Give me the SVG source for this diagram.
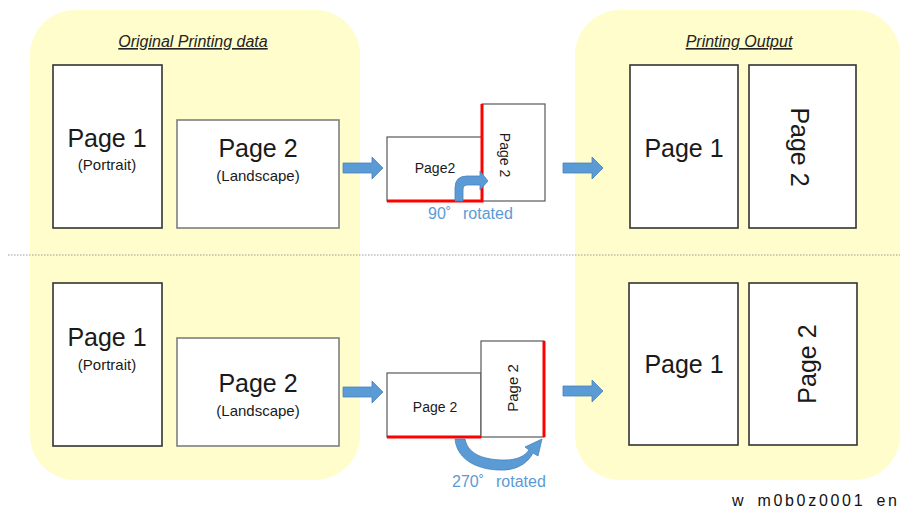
<svg xmlns="http://www.w3.org/2000/svg" width="904" height="510" viewBox="0 0 904 510">
<style>
.panel{fill:#fefdcb;stroke:none}
.page{fill:#ffffff;stroke:#333333;stroke-width:1.6}
.land{fill:#ffffff;stroke:#7f7f7f;stroke-width:1.6}
.mini{fill:#ffffff;stroke:#595959;stroke-width:1.2}
.red{stroke:#ff0000;stroke-width:3;fill:none}
.big{font-family:"Liberation Sans",Arial,sans-serif;font-size:25px;fill:#1a1a1a;text-anchor:middle}
.sub{font-family:"Liberation Sans",Arial,sans-serif;font-size:15px;fill:#1a1a1a;text-anchor:middle}
.small{font-family:"Liberation Sans",Arial,sans-serif;font-size:14px;fill:#1a1a1a;text-anchor:middle}
.title{font-family:"Liberation Sans",Arial,sans-serif;font-size:16px;font-style:italic;text-decoration:underline;fill:#222222;text-anchor:middle}
.rot{font-family:"Liberation Sans",Arial,sans-serif;font-size:16px;fill:#5b9bd5}
.arrow{fill:#5b9bd5;stroke:#4a82bd;stroke-width:0.8}
.cap{font-family:"Liberation Sans",Arial,sans-serif;font-size:16px;fill:#111111;letter-spacing:2.7px;word-spacing:4px}
</style>
<rect width="904" height="510" fill="#ffffff"/>
<g id="panel-original">
<rect class="panel" x="30" y="10" width="330" height="470" rx="45" ry="45"/>
<text class="title" x="193" y="47">Original Printing data</text>
</g>
<g id="panel-output">
<rect class="panel" x="575" y="10" width="325" height="470" rx="45" ry="45"/>
<text class="title" x="739" y="47">Printing Output</text>
</g>
<line x1="8" y1="255" x2="900" y2="255" stroke="#9a9a9a" stroke-width="1" stroke-dasharray="1.5,1.5"/>
<g id="top-page1">
<rect class="page" x="53" y="65" width="109" height="163"/>
<text class="big" x="107" y="147">Page 1</text>
<text class="sub" x="107" y="170">(Portrait)</text>
</g>
<g id="top-page2">
<rect class="land" x="177" y="120" width="162" height="108"/>
<text class="big" x="258" y="157">Page 2</text>
<text class="sub" x="258" y="181">(Landscape)</text>
</g>
<g id="top-rotation">
<rect class="mini" x="387" y="137" width="95" height="64"/>
<text class="small" x="435" y="173">Page2</text>
<rect class="mini" x="482" y="104" width="63" height="97"/>
<text class="small" x="505" y="155" dominant-baseline="central" transform="rotate(90 505 155)">Page 2</text>
<polyline class="red" points="387,201 482,201 482,104"/>
<path class="arrow" d="M455,201 L455,188 Q455,176 467,176 L480,176 L480,171 L488,181 L480,190 L480,185 L467,185 Q463,185 463,189 L463,201 Z"/>
<text class="rot" x="428" y="219">90˚<tspan x="463">rotated</tspan></text>
</g>
<g id="top-out-page1">
<rect class="page" x="630" y="65" width="108" height="163"/>
<text class="big" x="684" y="157">Page 1</text>
</g>
<g id="top-out-page2">
<rect class="page" x="749" y="65" width="107" height="163"/>
<text class="big" x="800" y="147" dominant-baseline="central" transform="rotate(90 800 147)">Page 2</text>
</g>
<g id="bottom-page1">
<rect class="page" x="53" y="283" width="109" height="163"/>
<text class="big" x="107" y="346">Page 1</text>
<text class="sub" x="107" y="370">(Portrait)</text>
</g>
<g id="bottom-page2">
<rect class="land" x="177" y="338" width="162" height="108"/>
<text class="big" x="258" y="392">Page 2</text>
<text class="sub" x="258" y="416">(Landscape)</text>
</g>
<g id="bottom-rotation">
<rect class="mini" x="387" y="373" width="94" height="64"/>
<text class="small" x="435" y="412">Page 2</text>
<rect class="mini" x="481" y="341" width="63" height="96"/>
<text class="small" x="512" y="388" dominant-baseline="central" transform="rotate(-90 512 388)" style="font-size:15px">Page 2</text>
<line class="red" x1="387" y1="437" x2="481" y2="437"/>
<line class="red" x1="544" y1="341" x2="544" y2="437"/>
<path class="arrow" d="M455,439 C457,461 480,471 505,470 C520,469 529,461 533,453 L538,456 L542,439 L525,447 L529,450 C525,456 517,460 505,460 C485,460 468,455 465,439 Z"/>
<text class="rot" x="452" y="487">270˚<tspan x="496">rotated</tspan></text>
</g>
<g id="bottom-out-page1">
<rect class="page" x="629" y="283" width="109" height="162"/>
<text class="big" x="684" y="373">Page 1</text>
</g>
<g id="bottom-out-page2">
<rect class="page" x="749" y="283" width="108" height="162"/>
<text class="big" x="807" y="364" dominant-baseline="central" transform="rotate(-90 807 364)">Page 2</text>
</g>
<g id="connectors">
<path class="arrow" d="M343,163 L372,163 L372,157 L383,168 L372,179 L372,173 L343,173 Z"/>
<path class="arrow" d="M563,163 L592,163 L592,157 L603,168 L592,179 L592,173 L563,173 Z"/>
<path class="arrow" d="M343,387 L372,387 L372,381 L383,392 L372,403 L372,397 L343,397 Z"/>
<path class="arrow" d="M563,386 L592,386 L592,380 L603,391 L592,402 L592,396 L563,396 Z"/>
</g>
<text class="cap" x="732" y="506">w m0b0z0001 en</text>
</svg>
